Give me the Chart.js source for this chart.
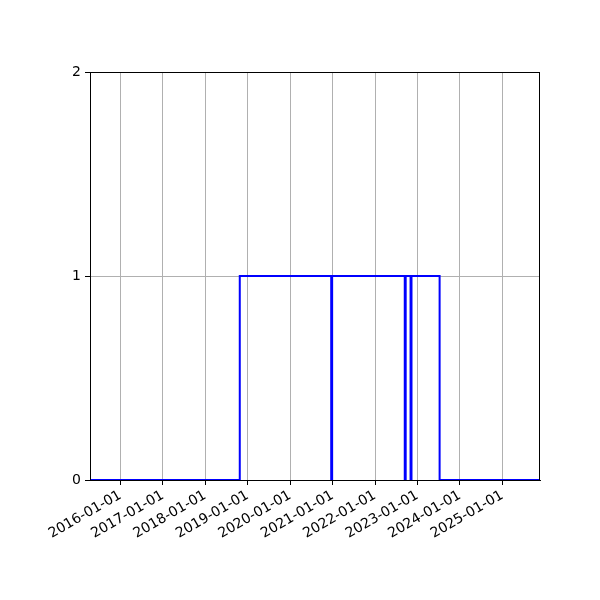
<!DOCTYPE html>
<html>
<head>
<meta charset="utf-8">
<script src="https://cdn.jsdelivr.net/npm/chart.js@4/dist/chart.umd.min.js"></script>
<style>
html,body{margin:0;padding:0;background:#fff;}
#wrap{width:600px;height:600px;}
</style>
</head>
<body>
<div id="wrap"><canvas id="c" width="600" height="600"></canvas></div>
<script>
// Transition dates (value applies from this date onward)
const stepDates = ['2015-04-15','2018-10-25','2020-12-20','2020-12-28','2022-09-14','2022-09-22','2022-11-03','2022-11-11','2023-07-11','2025-11-21'];
const stepValues = [0, 1, 0, 1, 0, 1, 0, 1, 0, 0];
const xTickYears = [2016,2017,2018,2019,2020,2021,2022,2023,2024,2025];
const yTicks = [0, 1, 2];
const xMinDate = '2015-04-15';
const xMaxDate = '2025-11-21';

const toMs = d => Date.parse(d + 'T00:00:00Z');
const points = stepDates.map((d, i) => ({x: toMs(d), y: stepValues[i]}));
const pad2 = n => (n < 10 ? '0' : '') + n;

const framePlugin = {
  id: 'frame',
  afterDraw(chart) {
    const {ctx, chartArea: a} = chart;
    ctx.save();
    ctx.strokeStyle = '#000';
    ctx.lineWidth = 1;
    ctx.strokeRect(Math.round(a.left) + 0.5, Math.round(a.top) + 0.5, Math.round(a.right - a.left) - 1, Math.round(a.bottom - a.top));
    ctx.restore();
  }
};

new Chart(document.getElementById('c'), {
  type: 'line',
  data: {
    datasets: [{
      data: points,
      stepped: true,
      borderColor: '#0000ff',
      borderWidth: 2,
      pointRadius: 0,
      fill: false,
      tension: 0
    }]
  },
  options: {
    responsive: false,
    animation: false,
    events: [],
    layout: {padding: {top: 72, right: 60, left: 0, bottom: 0}},
    plugins: {legend: {display: false}, tooltip: {enabled: false}},
    scales: {
      x: {
        type: 'linear',
        min: toMs(xMinDate),
        max: toMs(xMaxDate),
        afterBuildTicks(axis) {
          axis.ticks = xTickYears.map(y => ({value: Date.UTC(y, 0, 1)}));
        },
        afterFit(axis) { axis.height = 120; },
        grid: {color: '#b0b0b0', lineWidth: 1, tickColor: '#000', tickLength: 5, drawTicks: true},
        border: {color: '#000', width: 1},
        ticks: {
          autoSkip: false,
          maxRotation: 30,
          minRotation: 30,
          padding: 2,
          color: '#000',
          font: {family: 'DejaVu Sans', size: 14},
          callback(v) {
            const d = new Date(v);
            return d.getUTCFullYear() + '-' + pad2(d.getUTCMonth() + 1) + '-' + pad2(d.getUTCDate());
          }
        }
      },
      y: {
        type: 'linear',
        min: 0,
        max: 2,
        afterBuildTicks(axis) {
          axis.ticks = yTicks.map(v => ({value: v}));
        },
        afterFit(axis) { axis.width = 90; },
        grid: {color: '#b0b0b0', lineWidth: 1, tickColor: '#000', tickLength: 5, drawTicks: true},
        border: {color: '#000', width: 1},
        ticks: {
          padding: 4,
          color: '#000',
          font: {family: 'DejaVu Sans', size: 14},
          callback: v => String(v)
        }
      }
    }
  },
  plugins: [framePlugin]
});
</script>
</body>
</html>
